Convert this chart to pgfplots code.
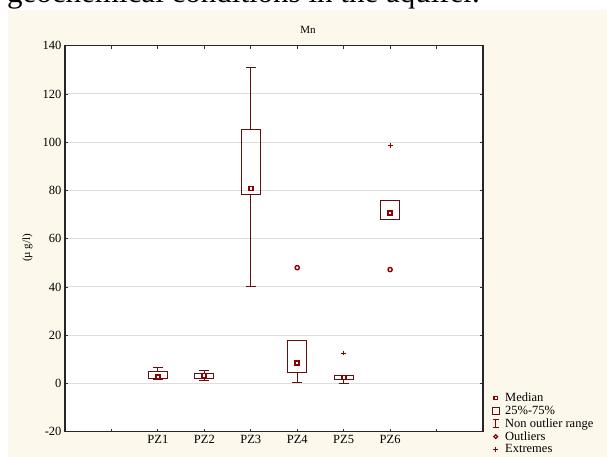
\documentclass[border=0pt]{standalone}
\usepackage{fontspec}
\setmainfont{Liberation Serif}
\usepackage{pgfplots}
\usepgfplotslibrary{statistics}
\pgfplotsset{compat=1.18}

\definecolor{cream}{RGB}{253,248,236}
\definecolor{boxc}{RGB}{100,14,14}
\definecolor{mrk}{RGB}{140,0,0}
\definecolor{gridc}{RGB}{222,222,222}

\pgfplotsset{
  boxplot/draw direction=y,
  boxplot/draw/median/.code={},
  bx/.style={boxc, line width=0.9pt, forget plot, solid},
}

\begin{document}
\begin{tikzpicture}
\useasboundingbox (0pt,0pt) rectangle (607pt,457pt);
\fill[cream] (7.5pt,0pt) rectangle (607pt,447pt);
\node[anchor=base west, inner sep=0pt, font=\fontsize{31}{31}\selectfont] at (7pt,454.5pt) {geochemical conditions in the aquifer.};
\node[font=\fontsize{11}{11}\selectfont] at (308pt,427pt) {Mn};

\begin{axis}[
    at={(65pt,25.3pt)}, anchor=south west,
    scale only axis, width=418pt, height=386pt,
    xmin=0, xmax=9, ymin=-20, ymax=140,
    xtick={1,...,8},
    xticklabels={,PZ1,PZ2,PZ3,PZ4,PZ5,PZ6,},
    ytick={-20,0,...,140},
    ymajorgrids, grid style={gridc, line width=0.9pt},
    tick align=inside, major tick length=3pt,
    tick style={black!80, line width=0.8pt},
    axis line style={black!85, line width=1.1pt},
    axis background/.style={fill=white},
    tick label style={font=\fontsize{12.5}{12.5}\selectfont},
    /pgf/number format/assume math mode=true,
    ylabel={(µ g/l)},
    y label style={at={(axis description cs:-0.09,0.476)}, anchor=center, font=\fontsize{11}{11}\selectfont},
    legend style={at={(axis description cs:1.02,0.104)}, anchor=north west,
      draw=none, fill=none, inner sep=0pt, row sep=0.4pt,
      font=\fontsize{12.5}{12.5}\selectfont, cells={anchor=west},
      nodes={inner sep=1.2pt}},
    legend cell align=left,
  ]

  % boxes: lower whisker, lower quartile, upper quartile, upper whisker
  \addplot[bx, boxplot prepared={draw position=2, lower whisker=1.5, lower quartile=2.0, median=2.6, upper quartile=5.0, upper whisker=6.7, box extend=0.41, whisker extend=0.22}] coordinates {};
  \addplot[bx, boxplot prepared={draw position=3, lower whisker=1.1, lower quartile=2.1, median=3.3, upper quartile=4.3, upper whisker=5.4, box extend=0.41, whisker extend=0.22}] coordinates {};
  \addplot[bx, boxplot prepared={draw position=4, lower whisker=40.1, lower quartile=78.5, median=80.8, upper quartile=105.4, upper whisker=131, box extend=0.41, whisker extend=0.22}] coordinates {};
  \addplot[bx, boxplot prepared={draw position=5, lower whisker=0.6, lower quartile=4.4, median=8.5, upper quartile=17.9, upper whisker=17.9, box extend=0.41, whisker extend=0.22}] coordinates {};
  \addplot[bx, boxplot prepared={draw position=6, lower whisker=0.0, lower quartile=1.7, median=2.5, upper quartile=3.2, upper whisker=3.2, box extend=0.41, whisker extend=0.22}] coordinates {};
  \addplot[bx, boxplot prepared={draw position=7, lower whisker=68.0, lower quartile=68.0, median=70.8, upper quartile=75.7, upper whisker=75.7, box extend=0.41, whisker extend=0.22}] coordinates {};

  % medians
  \addplot[only marks, forget plot, mark=square*, mark size=2.0pt,
    mark options={draw=mrk, fill=white, line width=1.8pt}]
    coordinates {(2,2.6) (3,3.3) (4,80.8) (5,8.5) (6,2.5) (7,70.8)};
  % outliers
  \addplot[only marks, forget plot, mark=*, mark size=2.1pt,
    mark options={draw=mrk, fill=white, line width=1.4pt}]
    coordinates {(5,48.0) (7,47.2)};
  % extremes
  \addplot[only marks, forget plot, mark=+, mark size=2.4pt,
    mark options={draw=mrk, line width=0.9pt}]
    coordinates {(6,12.6) (7,98.7)};

  \addlegendimage{legend image code/.code={\path (-4pt,0) (8pt,0);
      \draw[mrk, fill=white, line width=1.5pt] (-1.7pt,-1.7pt) rectangle (1.7pt,1.7pt);}}
  \addlegendentry{Median}
  \addlegendimage{legend image code/.code={\path (-4pt,0) (8pt,0);
      \draw[boxc, line width=0.7pt] (-3.8pt,-3.8pt) rectangle (3.8pt,3.8pt);}}
  \addlegendentry{25\%-75\%}
  \addlegendimage{legend image code/.code={\path (-4pt,0) (8pt,0);
      \draw[mrk, line width=0.8pt] (0,-4pt) -- (0,4pt) (-3pt,4pt) -- (3pt,4pt) (-3pt,-4pt) -- (3pt,-4pt);}}
  \addlegendentry{Non outlier range}
  \addlegendimage{legend image code/.code={\path (-4pt,0) (8pt,0);
      \draw[mrk, fill=white, line width=1.3pt] (0,0) circle (1.9pt);}}
  \addlegendentry{Outliers}
  \addlegendimage{legend image code/.code={\path (-4pt,0) (8pt,0);
      \draw[mrk, line width=0.8pt] (-2.5pt,0) -- (2.5pt,0) (0,-2.5pt) -- (0,2.5pt);}}
  \addlegendentry{Extremes}
\end{axis}
\end{tikzpicture}
\end{document}
